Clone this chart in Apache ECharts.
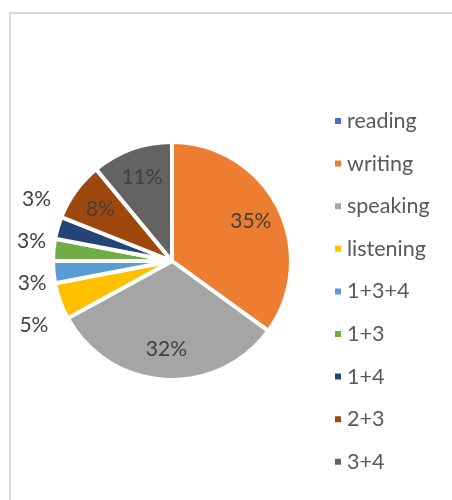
<!DOCTYPE html>
<html>
<head>
<meta charset="utf-8">
<script src="https://cdn.jsdelivr.net/npm/echarts@6/dist/echarts.min.js"></script>
<style>
  html, body { margin: 0; padding: 0; background: #fff; }
  #container { width: 452px; height: 500px; }
</style>
</head>
<body>
<div id="container"></div>
<script>
let skills = ["reading", "writing", "speaking", "listening", "1+3+4", "1+3", "1+4", "2+3", "3+4"];
let shares = [0, 35, 32, 5, 3, 3, 3, 8, 11];
let colors = ["#4472C4", "#ED7D31", "#A5A5A5", "#FFC000", "#5B9BD5", "#70AD47", "#264478", "#9E480E", "#636363"];
// small slices get their label outside, the rest inside
let outsideLabel = ["listening", "1+3+4", "1+3", "1+4"];

let dom = document.getElementById("container");
let myChart = echarts.init(dom, null, { renderer: "canvas" });
let font = "Lato, 'Open Sans', sans-serif";
let center = [172, 261];

let pieData = [];
let labelData = [];
let i;
for (i = 0; i < skills.length; i++) {
  let isOut = outsideLabel.indexOf(skills[i]) >= 0;
  pieData.push({
    name: skills[i],
    value: shares[i],
    itemStyle: { color: colors[i] },
    label: { show: isOut && shares[i] > 0 },
  });
  labelData.push({
    name: skills[i],
    value: shares[i],
    label: { show: !isOut && shares[i] > 0 },
  });
}

let option = {
  animation: false,
  graphic: [
    {
      type: "polyline",
      shape: { points: [[10, 500], [10, 13], [452, 13]] },
      style: { stroke: "#d9d9d9", lineWidth: 2, fill: null },
    },
  ],
  legend: {
    orient: "vertical",
    left: 328,
    top: 105,
    data: skills,
    icon: "rect",
    itemWidth: 8,
    itemHeight: 8,
    itemGap: 20.6,
    textStyle: { fontFamily: font, fontSize: 21.5, lineHeight: 22, color: "#595959" },
    selectedMode: false,
  },
  series: [
    {
      name: "skills",
      type: "pie",
      center: center,
      radius: [0, 119],
      startAngle: 90,
      clockwise: true,
      silent: true,
      data: pieData,
      itemStyle: { borderColor: "#fff", borderWidth: 4 },
      label: {
        position: "outside",
        formatter: "{d}%",
        fontFamily: font,
        fontSize: 21,
        lineHeight: 40,
        color: "#404040",
        alignTo: "none",
        overflow: "none",
        offset: [3, -27],
      },
      labelLine: { show: false, length: 6, length2: 4 },
      percentPrecision: 0,
    },
    {
      name: "labels",
      type: "pie",
      center: center,
      radius: [52, 119],
      startAngle: 90,
      clockwise: true,
      silent: true,
      data: labelData,
      itemStyle: { color: "rgba(0,0,0,0)", borderWidth: 0 },
      label: {
        position: "inside",
        formatter: "{d}%",
        fontFamily: font,
        fontSize: 21,
        color: "#404040",
      },
      labelLine: { show: false },
      percentPrecision: 0,
    },
  ],
};

myChart.setOption(option);
window.addEventListener("resize", myChart.resize);
</script>
</body>
</html>
